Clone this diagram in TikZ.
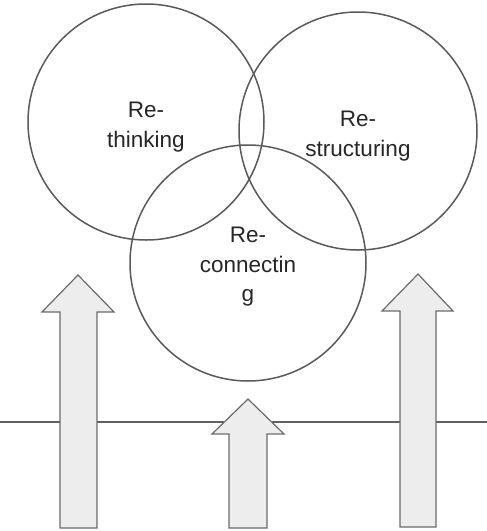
\documentclass[tikz,border=0pt]{standalone}
\usepackage{fontspec}
\setmainfont{Liberation Sans}
\begin{document}
\begin{tikzpicture}[x=1pt,y=-1pt,
  ring/.style={draw=black!65, line width=1.5pt, circle, inner sep=0pt},
  lbl/.style={align=center, text=black!85, font=\fontsize{22.5}{29.5}\selectfont},
  uparrow/.style={draw=black!58, line width=1.2pt, fill=black!7, line join=miter}]
\useasboundingbox (0,0) rectangle (487,531);
% base line
\coordinate (L) at (0,422);
\coordinate (R) at (487,422);
\draw[draw=black!62, line width=1.3pt] (L) -- (R);
% arrows
\draw[uparrow] (60,528) -- (60,312) -- (42,312) -- (78,275) -- (114,312) -- (97,312) -- (97,528) -- cycle;
\draw[uparrow] (229,528) -- (229,434) -- (212,434) -- (248,399) -- (284,434) -- (267,434) -- (267,528) -- cycle;
\draw[uparrow] (400,527) -- (400,311) -- (382,311) -- (418,274) -- (453,311) -- (436,311) -- (436,527) -- cycle;
% circles
\node[ring, minimum size=236pt] (c1) at (146,122) {};
\node[ring, minimum size=238pt] (c2) at (358,131) {};
\node[ring, minimum size=236pt] (c3) at (248,263) {};
% labels
\node[lbl] (t1) at (146,127) {Re-\\thinking};
\node[lbl] (t2) at (358,136) {Re-\\structuring};
\node[lbl] (t3) at (248,267) {Re-\\connectin\\g};
\end{tikzpicture}
\end{document}
